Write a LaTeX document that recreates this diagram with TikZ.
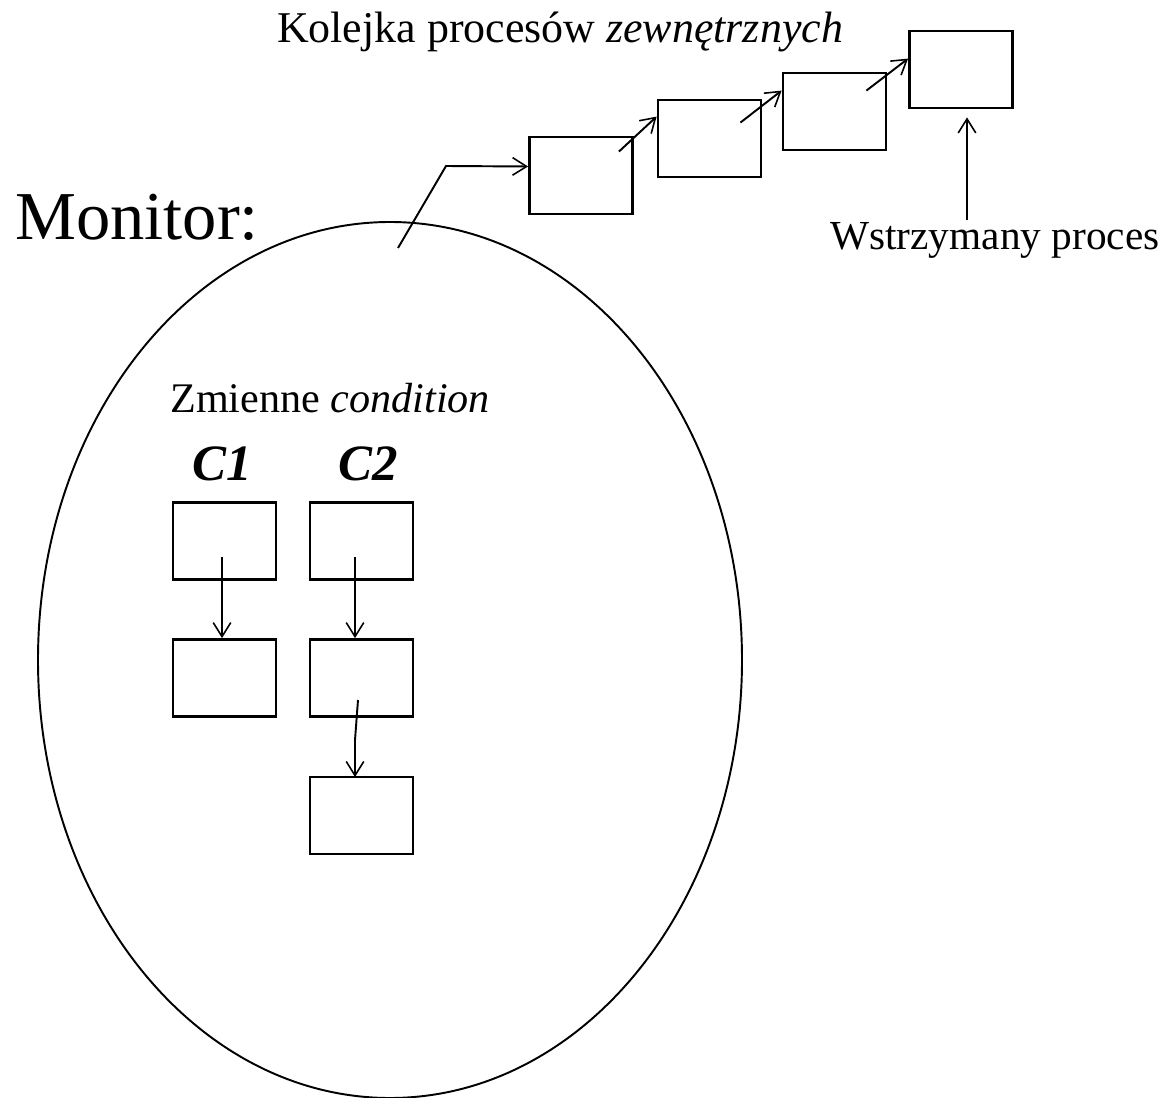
\documentclass[tikz,border=0pt]{standalone}
\usepackage{fontspec}
\setmainfont{Liberation Serif}
\usetikzlibrary{calc,
	positioning,
	arrows.meta}

\begin{document}
\begin{tikzpicture}[x=0.02cm, y=-0.02cm,
        proc/.style={draw, line width=1.6pt, minimum width=2.06cm, minimum height=1.54cm, inner sep=0pt},
        link/.style={-{Straight Barb[length=8pt, width=10pt, line width=0.9pt]}, line width=1.1pt},
        lbl/.style={inner sep=0pt, font=\fontsize{25}{28}\selectfont}
    ]
            \useasboundingbox (0, 0) rectangle (1174, 1098);

            % the monitor itself
            \draw[line width=1.1pt] (390, 660) ellipse (352 and 438);
            \node[inner sep=0pt, anchor=base west, font=\fontsize{39}{44}\selectfont] (mon) at (15, 240) {Monitor:};

            % queue of processes waiting outside
            \node[lbl, anchor=base] (title) at (560, 43) {Kolejka procesów \textit{zewnętrznych}};
            \node[proc] (q1) at (581, 175.5) {};
            \node[proc] (q2) at (709.5, 138.5) {};
            \node[proc] (q3) at (834.5, 111.5) {};
            \node[proc] (q4) at (961, 69.5) {};

            \coordinate (entry) at (398, 248);
            \draw[link] (entry) -- (446, 166) -- ($(q1.west)+(0, -9)$);
            \draw[link] ($(q1.north east)+(-15, 16)$) -- ($(q2.north west)+(0, 18)$);
            \draw[link] ($(q2.north east)+(-22, 24)$) -- ($(q3.north west)+(0, 19)$);
            \draw[link] ($(q3.north east)+(-21, 19)$) -- ($(q4.north west)+(0, 29)$);

            \node[lbl, anchor=base west, font=\fontsize{23.5}{26}\selectfont] (wait) at (830, 250) {Wstrzymany proces};
            \coordinate (hold) at (967, 220);
            \draw[link] (hold) -- ($(hold |- q4.south)+(0, 8)$);

            % condition variables
            \node[lbl, anchor=base west, font=\fontsize{24}{28}\selectfont] (cond) at (170, 413) {Zmienne \textit{condition}};
            \node[lbl, anchor=base, font=\fontsize{29}{32}\selectfont\bfseries\itshape] (c1) at (222, 480) {C1};
            \node[lbl, anchor=base, font=\fontsize{29}{32}\selectfont\bfseries\itshape] (c2) at (368, 480) {C2};

            \node[proc] (c11) at (224.5, 541) {};
            \node[proc] (c12) at (224.5, 678) {};
            \node[proc] (c21) at (361.5, 541) {};
            \node[proc] (c22) at (361.5, 678) {};
            \node[proc] (c23) at (361.5, 815.5) {};

            \coordinate (p11) at (222, 557);
            \coordinate (p21) at (355, 557);
            \coordinate (p22) at (358, 700);
            \draw[link] (p11) -- (p11 |- c12.north);
            \draw[link] (p21) -- (p21 |- c22.north);
            \draw[link] (p22) -- (355, 740) -- (355, 777);
\end{tikzpicture}
\end{document}
